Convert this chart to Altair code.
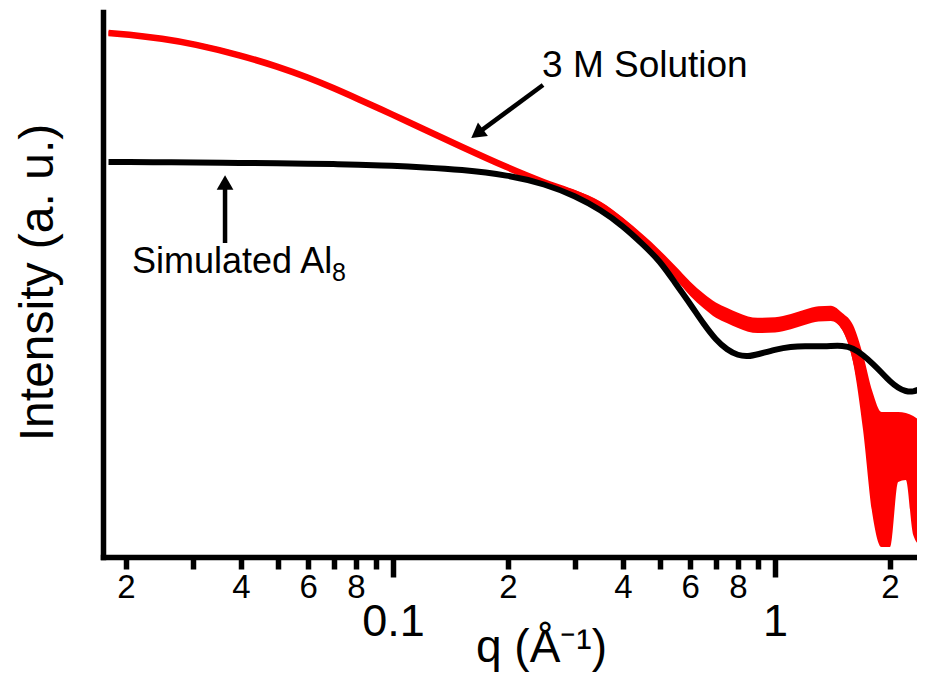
import altair as alt
import pandas as pd

# ---- data ----
q = [0.018, 0.02, 0.025, 0.03, 0.04, 0.05, 0.06, 0.07, 0.08, 0.1, 0.12, 0.15,
     0.2, 0.25, 0.3, 0.35, 0.4, 0.45, 0.5, 0.55, 0.6, 0.65, 0.7, 0.75, 0.8,
     0.85, 0.9, 1.0, 1.1, 1.2, 1.3, 1.4, 1.5, 1.6, 1.7, 1.8, 1.9, 2.0, 2.1,
     2.2, 2.3, 2.4, 2.47]

simulated = [72.48, 72.46, 72.42, 72.39, 72.31, 72.24, 72.17, 72.09, 72.0,
             71.78, 71.5, 71.1, 70.09, 68.44, 66.24, 63.67, 60.73, 57.43,
             54.31, 50.09, 46.42, 42.75, 39.82, 37.98, 36.97, 36.79, 37.16,
             38.07, 38.62, 38.72, 38.62, 38.72, 38.81, 38.35, 37.06, 35.5,
             33.85, 32.2, 31.01, 30.37, 30.28, 30.83, 31.19]

solution = [96.15, 95.91, 95.1, 94.15, 92.04, 89.96, 87.96, 86.02, 84.2,
            81.14, 78.55, 75.36, 71.39, 68.6, 66.8, 64.6, 61.5, 58.3,
            55.2, 52.1, 49.2, 47.0, 45.3, 44.3, 43.4, 42.75, 42.5,
            42.6, 43.2, 44.0, 44.6, 44.7, 43.21, 39.18, 30.18, 18.99,
            14.22, 14.22, 20.18, 20.28, 14.96, 13.67, 13.67]

solution_err = [0.4, 0.4, 0.4, 0.4, 0.4, 0.4, 0.4, 0.4, 0.4, 0.4,
                0.4, 0.4, 0.4, 0.4, 0.5, 0.6, 0.75, 0.9, 1.05, 1.2, 1.3,
                1.35, 1.4, 1.4, 1.4, 1.4, 1.4, 1.4, 1.4, 1.4, 1.4, 1.4, 1.56,
                3.4, 6.88, 11.29, 12.39, 12.39, 6.42, 6.15, 10.92, 11.47, 11.47]

tick_values = [0.02, 0.03, 0.04, 0.05, 0.06, 0.07, 0.08, 0.09, 0.1,
               0.2, 0.3, 0.4, 0.5, 0.6, 0.7, 0.8, 0.9, 1, 2]
tick_labels = ["2", "", "4", "", "6", "", "8", "", "0.1",
               "2", "", "4", "", "6", "", "8", "", "1", "2"]
major_ticks = [0.1, 1]

# annotations (data coordinates)
ann_text = ["3 M Solution", "Simulated Al", "8"]
ann_q = [0.2455, 0.02074, 0.0692]
ann_v = [88.07, 52.11, 50.64]
ann_size = [37, 36, 25]

arrow_q = [0.247, 0.03633]
arrow_v = [86.6, 57.61]
arrow_q2 = [0.166, 0.03633]
arrow_v2 = [77.69, 68.73]
arrow_angle = [233.6, 0]

FONT = "Liberation Sans"
Q_DOMAIN = [0.01741, 2.353]

curves = pd.DataFrame({
    "q": q,
    "sim": simulated,
    "sol": solution,
    "lo": [s - e for s, e in zip(solution, solution_err)],
    "hi": [s + e for s, e in zip(solution, solution_err)],
})
ann = pd.DataFrame({"q": ann_q, "v": ann_v, "text": ann_text, "size": ann_size})
arrows = pd.DataFrame({"q": arrow_q, "v": arrow_v, "q2": arrow_q2,
                       "v2": arrow_v2, "angle": arrow_angle})


def label_expr(values, labels):
    expr = "''"
    for v, l in reversed(list(zip(values, labels))):
        expr = f"abs(datum.value - {v}) < 1e-9 ? '{l}' : ({expr})"
    return expr


is_major = " || ".join(f"abs(datum.value - {m}) < 1e-9" for m in major_ticks)

x_axis = alt.Axis(
    values=tick_values,
    labelExpr=label_expr(tick_values, tick_labels),
    grid=False,
    domainColor="black",
    domainWidth=5.5,
    domainCap="square",
    tickColor="black",
    tickWidth=5.5,
    tickSize={"condition": {"test": is_major, "value": 20}, "value": 12},
    labelFontSize={"condition": {"test": is_major, "value": 45}, "value": 33},
    labelPadding={"condition": {"test": is_major, "value": 22}, "value": 2},
    labelFont=FONT,
    labelColor="black",
    labelBaseline="top",
    labelAlign="center",
    labelOverlap=False,
    labelFlush=False,
    title="q (Å⁻¹)",
    titleFont=FONT,
    titleFontSize=46,
    titleFontWeight="normal",
    titleColor="black",
    titleBaseline="alphabetic",
    titleAlign="center",
    titleX=438,
    titleY=104,
)

y_axis = alt.Axis(
    ticks=False,
    labels=False,
    grid=False,
    domainColor="black",
    domainWidth=5.5,
    domainCap="square",
    title="Intensity (a. u.)",
    titleFont=FONT,
    titleFontSize=48,
    titleFontWeight="normal",
    titleColor="black",
    titleAngle=270,
    titleBaseline="alphabetic",
    titleAlign="center",
    titleX=-51,
    titleY=270,
)


def X(field):
    return alt.X(f"{field}:Q", scale=alt.Scale(type="log", domain=Q_DOMAIN, nice=False),
                 axis=x_axis, title="q (Å⁻¹)")


def Y(field):
    return alt.Y(f"{field}:Q", scale=alt.Scale(domain=[0, 100], nice=False, zero=False),
                 axis=y_axis, title="Intensity (a. u.)")


band = alt.Chart(curves).mark_area(color="#ff0000", interpolate="monotone", clip=True).encode(
    x=X("q"), y=Y("lo"), y2="hi"
)
sol_line = alt.Chart(curves).mark_line(color="#ff0000", strokeWidth=6.5,
                                       interpolate="basis", clip=True).encode(
    x=X("q"), y=Y("sol")
)
sim_line = alt.Chart(curves).mark_line(color="black", strokeWidth=6,
                                       interpolate="basis", clip=True).encode(
    x=X("q"), y=Y("sim")
)
shafts = alt.Chart(arrows).mark_rule(color="black", strokeWidth=4.5).encode(
    x=X("q"), y=Y("v"), x2="q2", y2="v2"
)
heads = alt.Chart(arrows).mark_point(shape="triangle-up", filled=True, color="black",
                                     size=280, opacity=1).encode(
    x=X("q2"), y=Y("v2"), angle=alt.Angle("angle:Q", scale=None)
)
labels = alt.Chart(ann).mark_text(font=FONT, color="black", align="left",
                                  baseline="alphabetic").encode(
    x=X("q"), y=Y("v"), text="text:N", size=alt.Size("size:Q", scale=None)
)

chart = alt.layer(band, sol_line, sim_line, shafts, heads, labels).properties(
    width=814,
    height=545,
    padding={"left": 95, "top": 4, "right": 0, "bottom": 116},
    autosize=alt.AutoSizeParams(type="none"),
    background="white",
).configure_view(stroke=None)

chart.save("out.html", embed_options={"renderer": "svg", "actions": False})
